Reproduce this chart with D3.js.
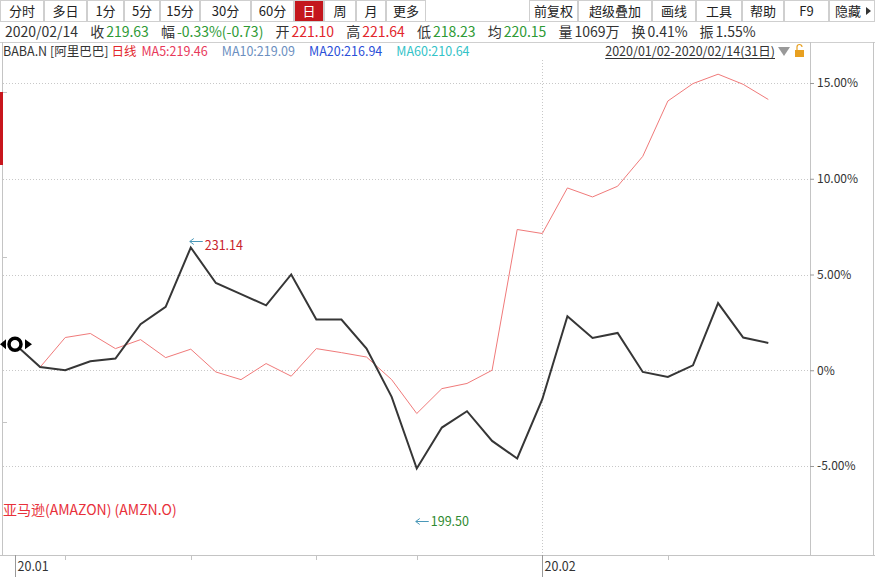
<!DOCTYPE html>
<html lang="zh">
  <head>
    <meta charset="UTF-8" />
    <title>BABA.N 超级叠加</title>
    <script src="https://d3js.org/d3.v7.min.js"></script>
    <style>
      body { margin: 0; background: #fff; }
      svg { display: block; font-family: "Noto Sans CJK SC", "Noto Sans", sans-serif; }
    </style>
  </head>
  <body>
    <svg id="chart" width="875" height="577"></svg>
    <script>
      // trading days 2020/01/02 - 2020/02/14
      const dates = [
        "2020-01-02", "2020-01-03", "2020-01-06", "2020-01-07", "2020-01-08",
        "2020-01-09", "2020-01-10", "2020-01-13", "2020-01-14", "2020-01-15",
        "2020-01-16", "2020-01-17", "2020-01-21", "2020-01-22", "2020-01-23",
        "2020-01-24", "2020-01-27", "2020-01-28", "2020-01-29", "2020-01-30",
        "2020-01-31", "2020-02-03", "2020-02-04", "2020-02-05", "2020-02-06",
        "2020-02-07", "2020-02-10", "2020-02-11", "2020-02-12", "2020-02-13",
        "2020-02-14",
      ];
      // BABA.N close
      const babaClose = [
        219.48, 216.91, 216.54, 217.56, 217.86, 221.74, 223.71, 230.42, 226.41, 225.14,
        223.88, 227.37, 222.27, 222.27, 218.99, 213.53, 205.43, 210.06, 211.91, 208.55,
        206.56, 213.27, 222.65, 220.19, 220.76, 216.35, 215.78, 217.1, 224.14, 220.24,
        219.63,
      ];
      const basePrice = 216.54;
      // AMZN.O overlay, % change
      const amznPct = [
        null, 0.16, 1.71, 1.92, 1.13, 1.6, 0.66, 1.1, -0.09, -0.49,
        0.35, -0.31, 1.13, 0.92, 0.69, -0.49, -2.26, -0.96, -0.69, 0.0,
        7.35, 7.14, 9.52, 9.05, 9.61, 11.17, 14.06, 14.97, 15.46, 14.93,
        14.14,
      ];
      const highMark = { index: 7, value: 231.14 };
      const lowMark = { index: 16, value: 199.5 };
      const pctTicks = [-5, 0, 5, 10, 15];
      const leftPriceTicks = [248.0, 229.3, 210.7];

      const toolLeft = ["分时", "多日", "1分", "5分", "15分", "30分", "60分", "日", "周", "月", "更多"];
      const toolLeftEdges = [0, 44, 87, 124, 160, 200, 251, 294, 324, 356, 386, 426];
      const toolRight = ["前复权", "超级叠加", "画线", "工具", "帮助", "F9", "隐藏"];
      const toolRightEdges = [529, 578, 652, 696, 742, 784, 829, 875];
      const activeTool = "日";

      const GREEN = "#2e9a35", RED = "#e2262c", DARK = "#333";
      const infoItems = [
        { label: "", value: "2020/02/14", color: DARK },
        { label: "收", value: "219.63", color: GREEN },
        { label: "幅", value: "-0.33%(-0.73)", color: GREEN },
        { label: "开", value: "221.10", color: RED },
        { label: "高", value: "221.64", color: RED },
        { label: "低", value: "218.23", color: GREEN },
        { label: "均", value: "220.15", color: GREEN },
        { label: "量", value: "1069万", color: DARK },
        { label: "换", value: "0.41%", color: DARK },
        { label: "振", value: "1.55%", color: DARK },
      ];
      const legendItems = [
        { text: "BABA.N [阿里巴巴]", color: "#333" },
        { text: "日线", color: "#e2262c" },
        { text: "MA5:219.46", color: "#e8385a" },
        { text: "MA10:219.09", color: "#6b8fbf" },
        { text: "MA20:216.94", color: "#2a4fd8" },
        { text: "MA60:210.64", color: "#33c3c8" },
      ];
      const rangeText = "2020/01/02-2020/02/14(31日)";
      const overlayName = "亚马逊(AMAZON) (AMZN.O)";

      const svg = d3.select("#chart");
      const W = 875;
      const plot = { left: 3, right: 810, top: 42, bottom: 555 };

      // ---- toolbar ----
      const tb = svg.append("g");
      function drawTools(labels, edges) {
        labels.forEach((t, i) => {
          const x0 = edges[i], x1 = edges[i + 1];
          const on = t === activeTool;
          tb.append("rect")
            .attr("x", x0 + 0.5).attr("y", 0.5)
            .attr("width", x1 - x0 - 1).attr("height", 21)
            .attr("fill", on ? "#c4161c" : "#fff")
            .attr("stroke", "#cfcfcf");
          tb.append("text")
            .attr("x", (x0 + x1) / 2 - (t === "隐藏" ? 4 : 0)).attr("y", 16)
            .attr("text-anchor", "middle")
            .attr("font-size", 13)
            .attr("fill", on ? "#fff" : "#222")
            .text(t);
        });
      }
      drawTools(toolLeft, toolLeftEdges);
      drawTools(toolRight, toolRightEdges);
      tb.append("path").attr("d", "M866,7 L871,11 L866,15 Z").attr("fill", "#333");
      tb.append("line").attr("x1", 0).attr("x2", W).attr("y1", 21.5).attr("y2", 21.5).attr("stroke", "#cfcfcf");

      // ---- info row ----
      let cx = 5;
      const info = svg.append("g").attr("font-size", 14);
      infoItems.forEach((d) => {
        if (d.label) {
          const l = info.append("text").attr("x", cx).attr("y", 37).attr("fill", DARK).text(d.label);
          cx += l.node().getComputedTextLength() + 2;
        }
        const v = info.append("text").attr("x", cx).attr("y", 37).attr("fill", d.color).text(d.value);
        cx += v.node().getComputedTextLength() + 12;
      });
      svg.append("line").attr("x1", 0).attr("x2", W).attr("y1", 42.5).attr("y2", 42.5).attr("stroke", "#cfcfcf");

      // ---- legend row ----
      let lx = 3;
      const leg = svg.append("g").attr("font-size", 12.5);
      legendItems.forEach((d, i) => {
        const t = leg.append("text").attr("x", lx).attr("y", 56).attr("fill", d.color).text(d.text);
        lx += t.node().getComputedTextLength() + (i === 0 ? 3 : i === 1 ? 5 : 14);
      });
      const rt = leg.append("text").attr("x", 775).attr("y", 56).attr("text-anchor", "end")
        .attr("font-size", 12.5).attr("fill", "#333").text(rangeText);
      const rw = rt.node().getComputedTextLength();
      leg.append("line").attr("x1", 775 - rw).attr("x2", 775).attr("y1", 58.5).attr("y2", 58.5).attr("stroke", "#333");
      leg.append("path").attr("d", "M778,47 L790,47 L784,56 Z").attr("fill", "#999");
      leg.append("rect").attr("x", 795).attr("y", 50).attr("width", 9).attr("height", 7).attr("fill", "#e8a020");
      leg.append("path").attr("d", "M797,50 V47 a2.5,2.5 0 0 1 5,0").attr("fill", "none").attr("stroke", "#e8a020").attr("stroke-width", 1.2);

      // ---- scales ----
      const x = d3.scalePoint().domain(d3.range(dates.length)).range([15, 768.3]);
      const y = d3.scaleLinear().domain([-5, 15]).range([466, 83]);
      const toPct = (p) => (p / basePrice - 1) * 100;

      // frame
      const frame = svg.append("g").attr("stroke", "#c4c4c4").attr("fill", "none");
      frame.append("line").attr("x1", 2.5).attr("x2", 2.5).attr("y1", plot.top).attr("y2", plot.bottom);
      frame.append("line").attr("x1", plot.right + 0.5).attr("x2", plot.right + 0.5).attr("y1", plot.top).attr("y2", plot.bottom);
      frame.append("line").attr("x1", 873.5).attr("x2", 873.5).attr("y1", plot.top).attr("y2", plot.bottom);
      frame.append("line").attr("x1", 0).attr("x2", W).attr("y1", plot.bottom + 0.5).attr("y2", plot.bottom + 0.5);

      // left price ticks
      svg.append("g").selectAll("line").data(leftPriceTicks).join("line")
        .attr("x1", 3).attr("x2", 7)
        .attr("y1", (d) => Math.round(y(toPct(d))) + 0.5).attr("y2", (d) => Math.round(y(toPct(d))) + 0.5)
        .attr("stroke", "#c4c4c4");
      svg.append("rect").attr("x", 0).attr("y", 92).attr("width", 3).attr("height", 73).attr("fill", "#c8161d");

      // horizontal grid
      svg.append("g").selectAll("line").data(pctTicks).join("line")
        .attr("x1", plot.left).attr("x2", plot.right)
        .attr("y1", (d) => Math.round(y(d)) + 0.5).attr("y2", (d) => Math.round(y(d)) + 0.5)
        .attr("stroke", "#c8c8c8").attr("stroke-dasharray", "1,2");

      // month / week ticks
      const parsed = dates.map((d) => new Date(d + "T00:00:00"));
      const monthStarts = d3.range(dates.length).filter((i) => i === 0 || parsed[i].getMonth() !== parsed[i - 1].getMonth());
      const weekStarts = d3.range(1, dates.length).filter((i) => parsed[i].getDay() < parsed[i - 1].getDay() && !monthStarts.includes(i));

      const xa = svg.append("g");
      monthStarts.forEach((i) => {
        const px = Math.round(x(i)) + 0.5;
        if (i > 0) {
          xa.append("line").attr("x1", px).attr("x2", px).attr("y1", 60).attr("y2", plot.bottom)
            .attr("stroke", "#c8c8c8").attr("stroke-dasharray", "1,2");
        }
        xa.append("line").attr("x1", px).attr("x2", px).attr("y1", plot.bottom).attr("y2", 577).attr("stroke", "#999");
        const dt = parsed[i];
        xa.append("text").attr("x", px + 2).attr("y", 571).attr("font-size", 12.5).attr("fill", "#333")
          .text(String(dt.getFullYear()).slice(2) + "." + String(dt.getMonth() + 1).padStart(2, "0"));
      });
      xa.selectAll(".wk").data(weekStarts).join("line")
        .attr("x1", (i) => Math.round(x(i)) + 0.5).attr("x2", (i) => Math.round(x(i)) + 0.5)
        .attr("y1", plot.bottom).attr("y2", plot.bottom + 5).attr("stroke", "#c4c4c4");

      // right % axis
      const ra = svg.append("g").attr("transform", `translate(${plot.right},0)`)
        .call(d3.axisRight(y).tickValues(pctTicks).tickSize(4).tickPadding(3)
          .tickFormat((d) => (d === 0 ? "0%" : d.toFixed(2) + "%")));
      ra.select(".domain").remove();
      ra.selectAll(".tick line").attr("stroke", "#999");
      ra.selectAll(".tick text").attr("font-size", 12).attr("fill", "#333")
        .attr("font-family", "'Noto Sans CJK SC', sans-serif");

      // overlay line (AMZN)
      const amznLine = d3.line().defined((d) => d !== null).x((d, i) => x(i)).y((d) => y(d));
      svg.append("path").datum(amznPct).attr("d", amznLine)
        .attr("fill", "none").attr("stroke", "#f07a7a").attr("stroke-width", 1);

      // main line (BABA)
      const babaLine = d3.line().x((d, i) => x(i)).y((d) => y(toPct(d)));
      svg.append("path").datum(babaClose).attr("d", babaLine)
        .attr("fill", "none").attr("stroke", "#363636").attr("stroke-width", 2);

      // start marker
      const mx = x(0), my = y(toPct(babaClose[0]));
      svg.append("circle").attr("cx", mx).attr("cy", my).attr("r", 6).attr("fill", "#fff")
        .attr("stroke", "#000").attr("stroke-width", 3.5);
      svg.append("path").attr("d", `M${mx - 15},${my} L${mx - 9},${my - 5} L${mx - 9},${my + 5} Z`).attr("fill", "#000");
      svg.append("path").attr("d", `M${mx + 17},${my} L${mx + 10},${my - 5} L${mx + 10},${my + 5} Z`).attr("fill", "#000");

      // extreme marks
      function mark(m, color, dy) {
        const ax = x(m.index) - 1, ay = Math.round(y(toPct(m.value))) + 0.5;
        const g = svg.append("g");
        g.append("path").attr("d", `M${ax + 13},${ay} H${ax} M${ax + 4},${ay - 3} L${ax},${ay} L${ax + 4},${ay + 3}`)
          .attr("fill", "none").attr("stroke", "#4a98b8").attr("stroke-width", 1);
        g.append("text").attr("x", ax + 15).attr("y", ay + 4.5 + dy).attr("font-size", 12.5).attr("fill", color)
          .text(m.value.toFixed(2));
      }
      mark(highMark, "#c8232b", 4);
      mark(lowMark, "#2e8a2e", 0);

      // overlay label
      svg.append("text").attr("x", 3).attr("y", 515).attr("font-size", 14).attr("fill", "#e8303a").text(overlayName);
    </script>
  </body>
</html>
